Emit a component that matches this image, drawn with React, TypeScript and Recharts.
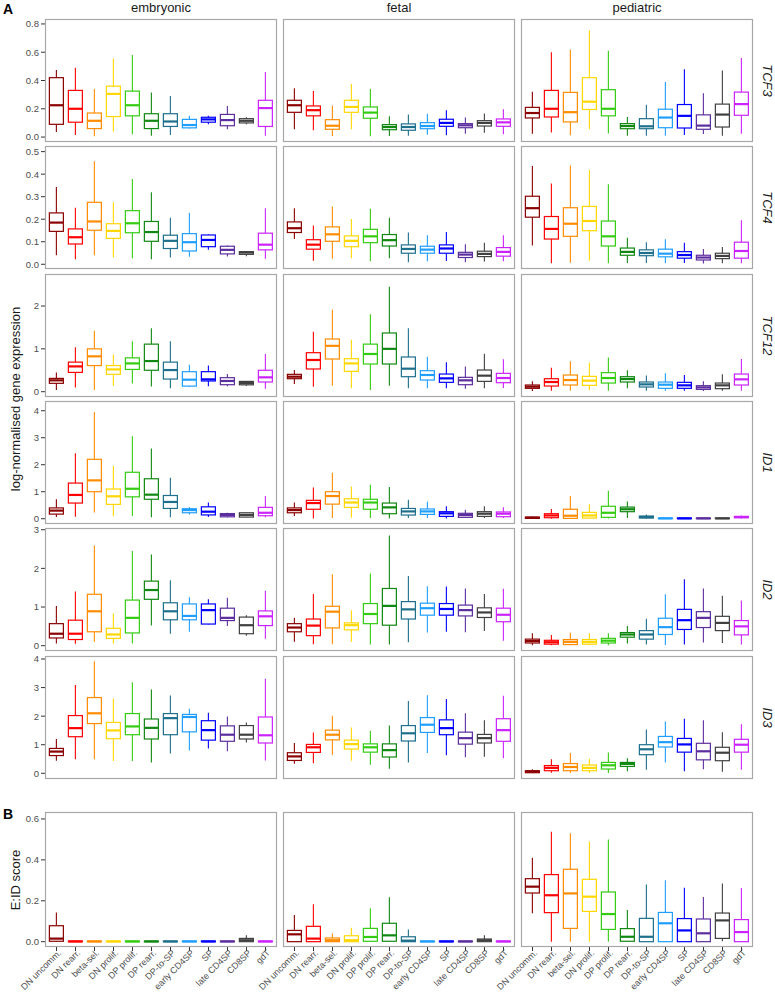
import React from "react";
import { Bar, BarChart, XAxis, YAxis } from "recharts";

const categories = [
  "DN uncomm.", "DN rearr.", "beta-sel.", "DN prolif.", "DP prolif.", "DP rearr.",
  "DP-to-SP", "early CD4SP", "SP", "late CD4SP", "CD8SP", "gdT",
];
const stages = ["embryonic", "fetal", "pediatric"];
const palette = [
  "#8B0000", "#FF0000", "#FF8C00", "#FFD700", "#33CC11", "#118811",
  "#1D6F8C", "#1E9EFF", "#0000FF", "#5C2D9E", "#404040", "#CC22FF",
];

// each entry: [min, q1, median, q3, max]
const tcf3Embryonic = [
  [0.035, 0.09, 0.225, 0.42, 0.475], [0.015, 0.105, 0.2, 0.33, 0.49], [0.005, 0.06, 0.115, 0.17, 0.34],
  [0.04, 0.145, 0.305, 0.36, 0.555], [0.02, 0.15, 0.225, 0.325, 0.58], [0.01, 0.06, 0.115, 0.165, 0.315],
  [0.015, 0.075, 0.11, 0.165, 0.29], [0.06, 0.065, 0.085, 0.125, 0.15], [0.09, 0.105, 0.125, 0.14, 0.15],
  [0.055, 0.08, 0.12, 0.16, 0.22], [0.09, 0.1, 0.115, 0.13, 0.14], [0.01, 0.075, 0.205, 0.26, 0.46],
];
const tcf3Fetal = [
  [0.055, 0.175, 0.225, 0.26, 0.345], [0.048, 0.15, 0.19, 0.22, 0.325], [0.007, 0.055, 0.08, 0.123, 0.223],
  [0.055, 0.175, 0.213, 0.26, 0.375], [0.005, 0.133, 0.173, 0.213, 0.34], [0.007, 0.052, 0.071, 0.088, 0.147],
  [0.01, 0.048, 0.071, 0.093, 0.159], [0.017, 0.059, 0.078, 0.102, 0.164], [0.012, 0.076, 0.1, 0.126, 0.19],
  [0.024, 0.066, 0.083, 0.095, 0.138], [0.031, 0.078, 0.1, 0.116, 0.166], [0.019, 0.076, 0.104, 0.128, 0.197],
];
const tcf3Pediatric = [
  [0.024, 0.135, 0.17, 0.21, 0.32], [0.033, 0.142, 0.2, 0.33, 0.6], [0.012, 0.107, 0.176, 0.316, 0.62],
  [0.055, 0.195, 0.25, 0.42, 0.753], [0.026, 0.15, 0.2, 0.335, 0.61], [0.01, 0.059, 0.078, 0.095, 0.142],
  [0.01, 0.059, 0.076, 0.13, 0.228], [0.01, 0.066, 0.138, 0.197, 0.39], [0.014, 0.064, 0.15, 0.23, 0.48],
  [0.021, 0.055, 0.081, 0.157, 0.309], [0.01, 0.071, 0.159, 0.233, 0.47], [0.024, 0.154, 0.233, 0.318, 0.56],
];

const tcf4Embryonic = [
  [0.04, 0.146, 0.185, 0.228, 0.343], [0.022, 0.09, 0.12, 0.157, 0.251], [0.04, 0.151, 0.19, 0.275, 0.457],
  [0.031, 0.115, 0.148, 0.18, 0.275], [0.027, 0.14, 0.182, 0.238, 0.379], [0.022, 0.102, 0.143, 0.19, 0.32],
  [0.03, 0.07, 0.104, 0.129, 0.207], [0.033, 0.059, 0.098, 0.136, 0.228], [0.064, 0.078, 0.108, 0.13, 0.132],
  [0.034, 0.046, 0.064, 0.08, 0.083], [0.036, 0.044, 0.052, 0.056, 0.059], [0.024, 0.064, 0.087, 0.138, 0.249],
];
const tcf4Fetal = [
  [0.112, 0.141, 0.16, 0.188, 0.249], [0.016, 0.067, 0.087, 0.109, 0.172], [0.025, 0.102, 0.133, 0.166, 0.256],
  [0.027, 0.078, 0.104, 0.126, 0.201], [0.013, 0.096, 0.124, 0.155, 0.246], [0.027, 0.081, 0.107, 0.132, 0.206],
  [0.009, 0.049, 0.068, 0.086, 0.141], [0.013, 0.049, 0.065, 0.08, 0.129], [0.015, 0.049, 0.07, 0.086, 0.143],
  [0.009, 0.03, 0.043, 0.053, 0.089], [0.012, 0.034, 0.046, 0.058, 0.095], [0.013, 0.036, 0.055, 0.074, 0.129],
];
const tcf4Pediatric = [
  [0.083, 0.209, 0.249, 0.302, 0.436], [0.004, 0.112, 0.157, 0.212, 0.359], [0.007, 0.124, 0.18, 0.251, 0.438],
  [0.016, 0.149, 0.192, 0.257, 0.419], [0.004, 0.081, 0.124, 0.192, 0.355], [0.006, 0.04, 0.055, 0.072, 0.118],
  [0.006, 0.038, 0.05, 0.064, 0.098], [0.004, 0.033, 0.047, 0.067, 0.111], [0.006, 0.027, 0.041, 0.056, 0.095],
  [0.003, 0.019, 0.03, 0.04, 0.068], [0.004, 0.025, 0.037, 0.049, 0.077], [0.004, 0.027, 0.059, 0.098, 0.195],
];

const tcf12Embryonic = [
  [0.04, 0.195, 0.265, 0.31, 0.45], [0.1, 0.45, 0.59, 0.69, 1.04], [0.04, 0.61, 0.825, 1.0, 1.42],
  [0.14, 0.405, 0.52, 0.61, 0.87], [0.19, 0.52, 0.66, 0.79, 1.18], [0.12, 0.5, 0.715, 1.11, 1.48],
  [0.078, 0.295, 0.505, 0.69, 1.18], [0.11, 0.13, 0.28, 0.467, 0.63], [0.125, 0.25, 0.288, 0.467, 0.61],
  [0.125, 0.163, 0.25, 0.327, 0.41], [0.13, 0.16, 0.2, 0.24, 0.25], [0.07, 0.226, 0.335, 0.5, 0.88],
];
const tcf12Fetal = [
  [0.179, 0.303, 0.35, 0.405, 0.506], [0.117, 0.53, 0.74, 0.91, 1.4], [0.14, 0.763, 1.07, 1.23, 1.91],
  [0.078, 0.475, 0.66, 0.77, 1.21], [0.04, 0.646, 0.88, 1.11, 1.81], [0.14, 0.646, 1.0, 1.37, 2.45],
  [0.078, 0.35, 0.537, 0.81, 1.48], [0.078, 0.272, 0.39, 0.49, 0.817], [0.078, 0.218, 0.311, 0.412, 0.685],
  [0.07, 0.163, 0.265, 0.335, 0.59], [0.078, 0.241, 0.374, 0.506, 0.887], [0.086, 0.21, 0.319, 0.428, 0.755],
];
const tcf12Pediatric = [
  [0.016, 0.078, 0.117, 0.156, 0.241], [0.023, 0.132, 0.226, 0.303, 0.56], [0.023, 0.156, 0.272, 0.389, 0.708],
  [0.031, 0.148, 0.257, 0.358, 0.677], [0.023, 0.202, 0.319, 0.444, 0.8], [0.078, 0.226, 0.296, 0.35, 0.498],
  [0.023, 0.109, 0.171, 0.226, 0.38], [0.023, 0.078, 0.163, 0.226, 0.428], [0.023, 0.078, 0.148, 0.218, 0.39],
  [0.016, 0.054, 0.1, 0.14, 0.241], [0.023, 0.07, 0.148, 0.202, 0.405], [0.023, 0.156, 0.288, 0.412, 0.763],
];

const id1Embryonic = [
  [0.06, 0.17, 0.3, 0.4, 0.72], [0.07, 0.58, 0.88, 1.32, 2.42], [0.23, 1.0, 1.42, 2.2, 3.95],
  [0.09, 0.53, 0.83, 1.1, 1.96], [0.1, 0.81, 1.11, 1.72, 3.05], [0.05, 0.72, 0.89, 1.48, 2.6],
  [0.05, 0.38, 0.62, 0.86, 1.52], [0.16, 0.22, 0.32, 0.37, 0.43], [0.06, 0.14, 0.26, 0.44, 0.6],
  [0.05, 0.07, 0.14, 0.19, 0.22], [0.05, 0.06, 0.14, 0.22, 0.23], [0.05, 0.11, 0.22, 0.42, 0.84],
];
const id1Fetal = [
  [0.1, 0.22, 0.32, 0.4, 0.6], [0.012, 0.35, 0.58, 0.68, 1.16], [0.025, 0.54, 0.84, 1.0, 1.7],
  [0.04, 0.42, 0.6, 0.74, 1.19], [0.025, 0.35, 0.6, 0.72, 1.26], [0.012, 0.185, 0.42, 0.58, 1.17],
  [0.025, 0.136, 0.27, 0.38, 0.7], [0.025, 0.16, 0.27, 0.36, 0.63], [0.012, 0.086, 0.2, 0.26, 0.46],
  [0.025, 0.05, 0.136, 0.2, 0.33], [0.025, 0.086, 0.185, 0.26, 0.46], [0.025, 0.074, 0.185, 0.25, 0.42],
];
const id1Pediatric = [
  [0.0, 0.012, 0.037, 0.06, 0.086], [0.0, 0.037, 0.12, 0.185, 0.36], [0.0, 0.012, 0.11, 0.35, 0.84],
  [0.0, 0.025, 0.12, 0.235, 0.54], [0.012, 0.05, 0.22, 0.46, 1.04], [0.025, 0.26, 0.35, 0.43, 0.64],
  [0.012, 0.025, 0.06, 0.1, 0.16], [0.0, 0.005, 0.012, 0.025, 0.035], [0.0, 0.005, 0.012, 0.025, 0.035],
  [0.0, 0.005, 0.012, 0.025, 0.035], [0.0, 0.005, 0.012, 0.025, 0.035], [0.012, 0.037, 0.06, 0.086, 0.12],
];

const id2Embryonic = [
  [0.06, 0.2, 0.31, 0.57, 1.03], [0.05, 0.16, 0.31, 0.66, 1.4], [0.1, 0.36, 0.89, 1.33, 2.59],
  [0.06, 0.19, 0.29, 0.45, 0.83], [0.06, 0.33, 0.72, 1.18, 2.45], [0.52, 1.2, 1.44, 1.67, 2.36],
  [0.31, 0.67, 0.89, 1.11, 1.69], [0.36, 0.67, 0.77, 1.08, 1.25], [0.55, 0.56, 0.92, 1.08, 1.2],
  [0.51, 0.65, 0.72, 0.97, 1.24], [0.26, 0.31, 0.53, 0.74, 0.79], [0.18, 0.52, 0.76, 0.9, 1.42],
];
const id2Fetal = [
  [0.1, 0.36, 0.47, 0.57, 0.72], [0.04, 0.26, 0.52, 0.69, 1.34], [0.04, 0.46, 0.88, 1.02, 1.85],
  [0.1, 0.41, 0.53, 0.59, 0.92], [0.03, 0.57, 0.82, 1.09, 1.87], [0.03, 0.53, 1.03, 1.48, 2.85],
  [0.09, 0.69, 0.94, 1.14, 1.8], [0.34, 0.79, 0.97, 1.1, 1.54], [0.36, 0.79, 0.95, 1.09, 1.53],
  [0.35, 0.77, 0.92, 1.05, 1.48], [0.38, 0.73, 0.86, 0.98, 1.34], [0.13, 0.62, 0.8, 0.97, 1.47],
];
const id2Pediatric = [
  [0.01, 0.07, 0.12, 0.17, 0.32], [0.01, 0.04, 0.09, 0.14, 0.28], [0.01, 0.03, 0.1, 0.16, 0.34],
  [0.01, 0.04, 0.1, 0.16, 0.32], [0.01, 0.07, 0.13, 0.19, 0.32], [0.06, 0.22, 0.29, 0.34, 0.51],
  [0.03, 0.17, 0.29, 0.39, 0.7], [0.02, 0.29, 0.48, 0.71, 1.33], [0.03, 0.42, 0.66, 0.94, 1.72],
  [0.08, 0.47, 0.72, 0.88, 1.48], [0.07, 0.39, 0.59, 0.76, 1.29], [0.03, 0.28, 0.5, 0.65, 1.17],
];

const id3Embryonic = [
  [0.44, 0.62, 0.76, 0.87, 1.2], [0.49, 1.28, 1.58, 2.02, 3.09], [0.49, 1.74, 2.1, 2.65, 3.92],
  [0.43, 1.21, 1.5, 1.78, 2.62], [0.43, 1.35, 1.64, 2.09, 3.19], [0.38, 1.2, 1.59, 1.9, 2.93],
  [0.69, 1.35, 1.93, 2.09, 2.72], [0.8, 1.45, 1.97, 2.06, 2.26], [0.87, 1.16, 1.51, 1.84, 2.12],
  [0.77, 1.12, 1.35, 1.66, 1.99], [1.08, 1.2, 1.35, 1.67, 1.78], [0.45, 1.06, 1.33, 1.97, 3.31],
];
const id3Fetal = [
  [0.33, 0.45, 0.59, 0.72, 1.06], [0.35, 0.73, 0.91, 1.01, 1.43], [0.64, 1.17, 1.35, 1.51, 2.01],
  [0.44, 0.85, 1.02, 1.16, 1.6], [0.3, 0.74, 0.91, 1.03, 1.49], [0.16, 0.57, 0.81, 1.03, 1.67],
  [0.38, 1.13, 1.4, 1.67, 2.53], [0.71, 1.43, 1.7, 1.95, 2.73], [0.63, 1.35, 1.58, 1.87, 2.6],
  [0.56, 1.02, 1.23, 1.44, 2.1], [0.58, 1.06, 1.23, 1.36, 1.86], [0.53, 1.12, 1.51, 1.91, 2.71],
];
const id3Pediatric = [
  [0.01, 0.02, 0.06, 0.09, 0.14], [0.02, 0.09, 0.19, 0.27, 0.49], [0.01, 0.09, 0.22, 0.34, 0.71],
  [0.01, 0.09, 0.19, 0.29, 0.51], [0.01, 0.15, 0.28, 0.38, 0.73], [0.07, 0.24, 0.33, 0.38, 0.53],
  [0.12, 0.65, 0.84, 1.0, 1.53], [0.38, 0.92, 1.09, 1.29, 1.81], [0.07, 0.74, 1.01, 1.22, 1.91],
  [0.14, 0.47, 0.77, 1.05, 1.86], [0.05, 0.44, 0.72, 0.91, 1.44], [0.12, 0.74, 1.0, 1.19, 1.72],
];

const eidEmbryonic = [
  [0, 0.002, 0.015, 0.078, 0.143], [0, 0, 0.001, 0.003, 0.004], [0, 0, 0.001, 0.003, 0.004],
  [0, 0, 0.001, 0.003, 0.004], [0, 0, 0.001, 0.003, 0.004], [0, 0, 0.001, 0.003, 0.004],
  [0, 0, 0.001, 0.003, 0.004], [0, 0, 0.001, 0.003, 0.004], [0, 0, 0.001, 0.003, 0.004],
  [0, 0, 0.001, 0.003, 0.004], [0, 0, 0.007, 0.016, 0.031], [0, 0, 0.001, 0.003, 0.004],
];
const eidFetal = [
  [0, 0, 0.036, 0.055, 0.13], [0, 0, 0.015, 0.075, 0.183], [0, 0, 0.007, 0.018, 0.04],
  [0, 0, 0.007, 0.029, 0.068], [0, 0.002, 0.023, 0.065, 0.163], [0, 0.002, 0.031, 0.09, 0.217],
  [0, 0, 0.005, 0.024, 0.059], [0, 0, 0.001, 0.003, 0.004], [0, 0, 0.001, 0.003, 0.004],
  [0, 0, 0.001, 0.003, 0.004], [0, 0, 0.007, 0.013, 0.031], [0, 0, 0.001, 0.003, 0.004],
];
const eidPediatric = [
  [0.139, 0.238, 0.269, 0.308, 0.41], [0, 0.142, 0.227, 0.328, 0.538], [0, 0.065, 0.236, 0.354, 0.53],
  [0, 0.148, 0.22, 0.305, 0.49], [0, 0.06, 0.135, 0.243, 0.5], [0, 0.002, 0.024, 0.064, 0.155],
  [0, 0, 0.024, 0.114, 0.28], [0, 0, 0.09, 0.143, 0.3], [0, 0, 0.055, 0.113, 0.264],
  [0, 0, 0.041, 0.111, 0.218], [0.002, 0.016, 0.104, 0.14, 0.284], [0, 0, 0.047, 0.108, 0.262],
];

const tcf3Ticks = [0, 0.2, 0.4, 0.6, 0.8];
const tcf4Ticks = [0, 0.1, 0.2, 0.3, 0.4, 0.5];
const tcf12Ticks = [0, 1, 2];
const id1Ticks = [0, 1, 2, 3, 4];
const id2Ticks = [0, 1, 2, 3];
const id3Ticks = [0, 1, 2, 3, 4];
const eidTicks = [0, 0.2, 0.4, 0.6];

const FONT = "'Liberation Sans', Arial, Helvetica, sans-serif";
const colX = [45, 283, 521];
const PW = 232;
const LEFT = 45;

const rows = [
  { label: "TCF3", sets: [tcf3Embryonic, tcf3Fetal, tcf3Pediatric], ticks: tcf3Ticks, domain: [-0.035, 0.835], top: 19, h: 123, dec: 1 },
  { label: "TCF4", sets: [tcf4Embryonic, tcf4Fetal, tcf4Pediatric], ticks: tcf4Ticks, domain: [-0.021, 0.525], top: 146, h: 123, dec: 1 },
  { label: "TCF12", sets: [tcf12Embryonic, tcf12Fetal, tcf12Pediatric], ticks: tcf12Ticks, domain: [-0.124, 2.747], top: 274, h: 123, dec: 0 },
  { label: "ID1", sets: [id1Embryonic, id1Fetal, id1Pediatric], ticks: id1Ticks, domain: [-0.196, 4.36], top: 401, h: 123, dec: 0 },
  { label: "ID2", sets: [id2Embryonic, id2Fetal, id2Pediatric], ticks: id2Ticks, domain: [-0.137, 3.044], top: 528, h: 123, dec: 0 },
  { label: "ID3", sets: [id3Embryonic, id3Fetal, id3Pediatric], ticks: id3Ticks, domain: [-0.2, 4.105], top: 656, h: 123, dec: 0 },
];
const eidRow = { sets: [eidEmbryonic, eidFetal, eidPediatric], ticks: eidTicks, domain: [-0.026, 0.634], top: 812, h: 135, dec: 1 };

function BoxShape(props: any) {
  const { x, y, width, height, payload } = props;
  if (x == null || y == null) return null;
  const [lo, q1, med, q3, hi] = payload.stats;
  const top = Math.min(y, y + height);
  const bot = Math.max(y, y + height);
  const py = (v: number) => top + ((bot - top) * (hi - v)) / (hi - lo);
  const cx = x + width / 2;
  const c = payload.color;
  return (
    <g>
      <line x1={cx} x2={cx} y1={py(hi)} y2={py(lo)} stroke={c} strokeWidth={1.1} />
      <rect x={x} y={py(q3)} width={width} height={Math.max(py(q1) - py(q3), 0.6)} fill="#ffffff" stroke={c} strokeWidth={1.2} />
      <line x1={x} x2={x + width} y1={py(med)} y2={py(med)} stroke={c} strokeWidth={2.2} />
    </g>
  );
}

function XTick(props: any) {
  const { x, y, payload } = props;
  return (
    <text x={x} y={y} transform={`rotate(-45 ${x} ${y})`} textAnchor="end" dy="0.6em" dx={2}
      fontSize={9} fill="#4d4d4d" fontFamily={FONT}>
      {payload.value}
    </text>
  );
}

function Panel({ stats, col, top, h, domain, ticks, dec, showX }: any) {
  // left column carries the y axis; bottom row gets extra left room for slanted labels
  const yw = col === 0 ? LEFT : 0;
  const lm = col !== 0 && showX ? LEFT : 0;
  const xh = showX ? 46 : 0;
  const data = stats.map((s: number[], i: number) => ({
    cat: categories[i],
    range: [s[0], s[4]],
    stats: s,
    color: palette[i],
  }));
  return (
    <div style={{ position: "absolute", left: colX[col] - yw - lm, top }}>
      <BarChart width={PW + yw + lm} height={h + xh} data={data} margin={{ top: 0, right: 0, bottom: 0, left: lm }} barCategoryGap="12.5%">
        <XAxis
          dataKey="cat"
          hide={!showX}
          height={xh}
          padding={{ left: 2, right: 2 }}
          interval={0}
          axisLine={false}
          tickLine={{ stroke: "#333333" }}
          tickSize={4}
          tickMargin={0}
          tick={<XTick />}
        />
        <YAxis
          hide={col !== 0}
          width={yw}
          type="number"
          domain={domain}
          ticks={ticks}
          interval={0}
          allowDataOverflow
          axisLine={false}
          tickLine={{ stroke: "#333333" }}
          tickSize={4}
          tickMargin={2}
          tick={{ fontSize: 9.5, fill: "#4d4d4d", fontFamily: FONT }}
          tickFormatter={(v: number) => v.toFixed(dec)}
        />
        <Bar dataKey="range" isAnimationActive={false} shape={(p: any) => <BoxShape {...p} />} />
      </BarChart>
    </div>
  );
}

export default function App() {
  const allRows = [...rows.map((r) => ({ ...r, showX: false })), { ...eidRow, label: "", showX: true }];
  return (
    <div style={{ position: "absolute", left: 0, top: 0, width: 775, height: 993, background: "#ffffff", fontFamily: FONT }}>
      <style>{"svg.recharts-surface { overflow: visible; }"}</style>
      {allRows.map((r, ri) =>
        r.sets.map((s: number[][], ci: number) => (
          <Panel key={`${ri}-${ci}`} stats={s} col={ci} top={r.top} h={r.h} domain={r.domain} ticks={r.ticks} dec={r.dec} showX={r.showX} />
        ))
      )}
      <svg width={775} height={993} style={{ position: "absolute", left: 0, top: 0, pointerEvents: "none" }} fontFamily={FONT}>
        {allRows.map((r, ri) =>
          colX.map((cx, ci) => (
            <rect key={`b${ri}-${ci}`} x={cx + 0.5} y={r.top + 0.5} width={PW - 1} height={r.h - 1} fill="none" stroke="#a8a8a8" strokeWidth={1.2} />
          ))
        )}
        <text x={3} y={14} fontSize={14} fontWeight="bold" fill="#000">A</text>
        <text x={3} y={819} fontSize={14} fontWeight="bold" fill="#000">B</text>
        {stages.map((s, i) => (
          <text key={s} x={colX[i] + PW / 2} y={12} fontSize={13} textAnchor="middle" fill="#1a1a1a">{s}</text>
        ))}
        {rows.map((r) => (
          <text key={r.label} x={767} y={r.top + r.h / 2} fontSize={13} fontStyle="italic" textAnchor="middle"
            dominantBaseline="central" fill="#1a1a1a" transform={`rotate(90 767 ${r.top + r.h / 2})`}>
            {r.label}
          </text>
        ))}
        <text x={15} y={399} fontSize={13} textAnchor="middle" dominantBaseline="central" fill="#1a1a1a" transform="rotate(-90 15 399)">
          log-normalised gene expression
        </text>
        <text x={15} y={880} fontSize={13} textAnchor="middle" dominantBaseline="central" fill="#1a1a1a" transform="rotate(-90 15 880)">
          E:ID score
        </text>
      </svg>
    </div>
  );
}
